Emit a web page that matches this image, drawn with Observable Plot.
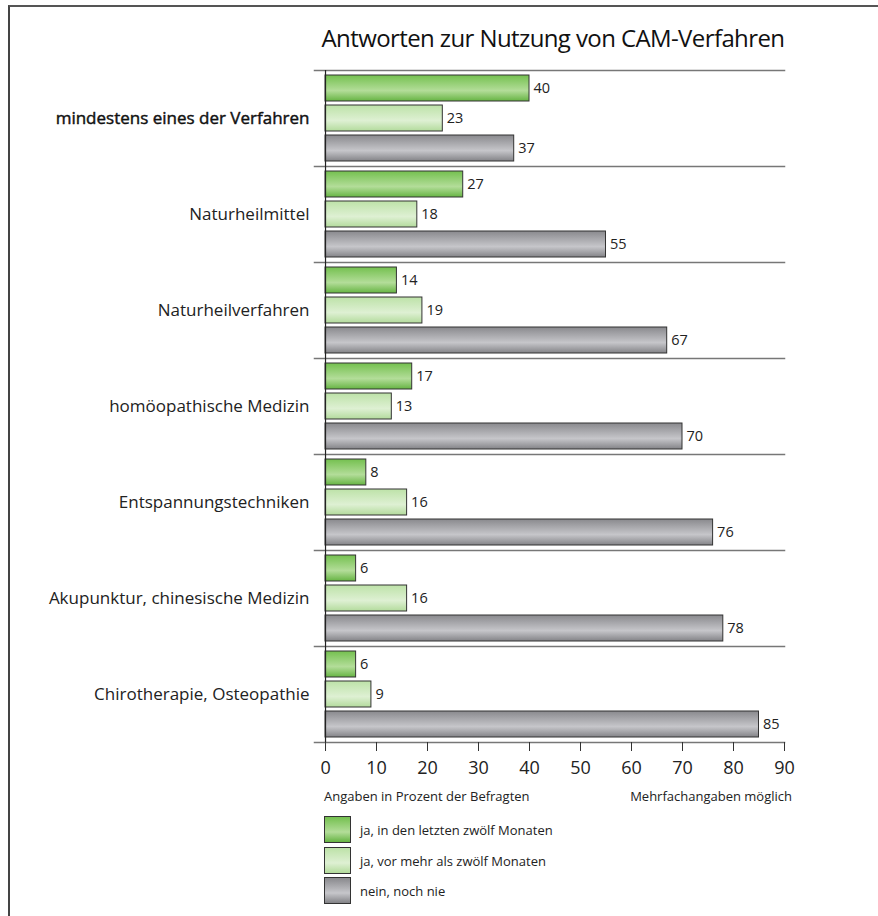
<!DOCTYPE html>
<html>
<head>
<meta charset="utf-8">
<script src="https://cdn.jsdelivr.net/npm/d3@7"></script>
<script src="https://cdn.jsdelivr.net/npm/@observablehq/plot@0.6"></script>
<style>
  html, body { margin: 0; padding: 0; background: #fff; }
  #wrap { position: relative; width: 878px; height: 916px; overflow: hidden; font-family: "Open Sans", sans-serif; color: #222; }
  #frame { position: absolute; left: 8px; top: 5px; width: 868px; height: 1000px; border-left: 2px solid #444; border-top: 2px solid #555; border-right: 1px solid #aaa; }
  #title { position: absolute; left: 300px; width: 506px; top: 21px; text-align: center; font-size: 24px; color: #111; letter-spacing: -0.6px; }
  #chart { position: absolute; left: 0; top: 56px; }
  .note { position: absolute; top: 787px; font-size: 13px; color: #222; }
  .leg { position: absolute; left: 324px; height: 27px; display: flex; align-items: center; font-size: 13px; color: #222; }
  .sw { width: 25px; height: 25px; border: 1px solid #333; margin-right: 9px; box-sizing: content-box; }
</style>
</head>
<body>
<div id="wrap">
  <div id="frame"></div>
  <div id="title">Antworten zur Nutzung von CAM-Verfahren</div>
  <div id="chart"></div>
  <div class="note" style="left:324px">Angaben in Prozent der Befragten</div>
  <div class="note" style="right:86px">Mehrfachangaben möglich</div>
  <div id="legend"></div>
</div>
<script>
const categories = [
  "mindestens eines der Verfahren",
  "Naturheilmittel",
  "Naturheilverfahren",
  "homöopathische Medizin",
  "Entspannungstechniken",
  "Akupunktur, chinesische Medizin",
  "Chirotherapie, Osteopathie"
];
const series = [
  "ja, in den letzten zwölf Monaten",
  "ja, vor mehr als zwölf Monaten",
  "nein, noch nie"
];
const recent12 = [40, 27, 14, 17, 8, 6, 6];
const earlier12 = [23, 18, 19, 13, 16, 16, 9];
const never = [37, 55, 67, 70, 76, 78, 85];
const xTicks = [0, 10, 20, 30, 40, 50, 60, 70, 80, 90];

const gradientIds = ["gRecent", "gEarlier", "gNever"];
const gradientStops = [
  [["0", "#74c04f"], ["0.6", "#b3dd99"], ["1", "#66b443"]],
  [["0", "#bde2a8"], ["0.6", "#def0d3"], ["1", "#b3db9c"]],
  [["0", "#89898d"], ["0.6", "#c6c6ca"], ["1", "#838387"]]
];

const valuesBySeries = [recent12, earlier12, never];
const data = [];
categories.forEach((c, i) => {
  series.forEach((s, j) => data.push({category: c, series: s, value: valuesBySeries[j][i]}));
});

const fontFamily = "'Open Sans', sans-serif";

const chart = Plot.plot({
  width: 878,
  height: 730,
  marginTop: 11,
  marginBottom: 41,
  marginLeft: 314,
  marginRight: 94,
  style: {fontFamily, background: "transparent", color: "#222", overflow: "visible"},
  x: {domain: [-2.16, 90], axis: null},
  y: {domain: series, axis: null, paddingInner: 0.148, paddingOuter: 0.164},
  fy: {domain: categories, padding: 0, axis: null},
  color: {domain: series, range: gradientIds.map(id => `url(#${id})`)},
  marks: [
    Plot.frame({anchor: "top", facetAnchor: "top", stroke: "#777", strokeWidth: 1.5}),
    Plot.frame({anchor: "bottom", stroke: "#777", strokeWidth: 1.5}),
    Plot.barX(data, {x: "value", y: "series", fy: "category", fill: "series", stroke: "#333", strokeWidth: 1}),
    Plot.ruleX([0], {stroke: "#222", strokeWidth: 1.2}),
    Plot.text(data, {x: "value", y: "series", fy: "category", text: d => String(d.value), dx: 4, textAnchor: "start", fontSize: 14.5, fill: "#222"}),
    Plot.text(categories.slice(0, 1), {fy: d => d, frameAnchor: "left", text: d => d, dx: -5, textAnchor: "end", fontSize: 17, fill: "#111", stroke: "#111", strokeWidth: 0.45}),
    Plot.text(categories.slice(1), {fy: d => d, frameAnchor: "left", text: d => d, dx: -5, textAnchor: "end", fontSize: 17, fill: "#222"}),
    Plot.axisX({ticks: xTicks, tickSize: 9, tickPadding: 10, fontSize: 18, stroke: "#333", fill: "#222", tickFormat: d => String(d), anchor: "bottom", label: null})
  ]
});

// gradient definitions
const ns = "http://www.w3.org/2000/svg";
const defs = document.createElementNS(ns, "defs");
gradientIds.forEach((id, k) => {
  const g = document.createElementNS(ns, "linearGradient");
  g.setAttribute("id", id);
  g.setAttribute("x1", "0"); g.setAttribute("y1", "0");
  g.setAttribute("x2", "0"); g.setAttribute("y2", "1");
  gradientStops[k].forEach(([o, c]) => {
    const s = document.createElementNS(ns, "stop");
    s.setAttribute("offset", o);
    s.setAttribute("stop-color", c);
    g.appendChild(s);
  });
  defs.appendChild(g);
});
chart.prepend(defs);
document.getElementById("chart").appendChild(chart);

// legend
const legend = document.getElementById("legend");
const legendTops = [816, 847, 877];
series.forEach((s, k) => {
  const row = document.createElement("div");
  row.className = "leg";
  row.style.top = legendTops[k] + "px";
  const sw = document.createElement("div");
  sw.className = "sw";
  const st = gradientStops[k];
  sw.style.background = `linear-gradient(to bottom, ${st.map(([o, c]) => `${c} ${o * 100}%`).join(", ")})`;
  const label = document.createElement("span");
  label.textContent = s;
  row.appendChild(sw);
  row.appendChild(label);
  legend.appendChild(row);
});
</script>
</body>
</html>
